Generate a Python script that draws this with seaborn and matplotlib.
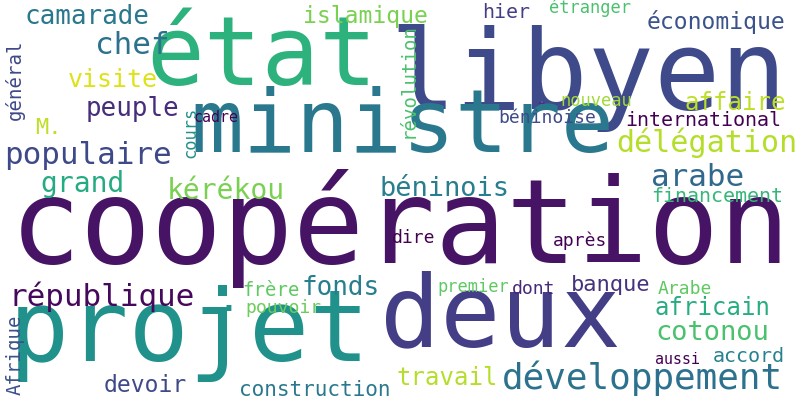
import matplotlib
matplotlib.use("Agg")
import matplotlib.pyplot as plt
import seaborn as sns

# word cloud data: word, centre x/y (pixels), em size (pixels), colour, rotation
words = ["coopération", "état", "libyen", "ministre", "deux", "projet", "développement",
         "délégation", "affaire", "économique", "international", "arabe", "financement",
         "banque", "Arabe", "africain", "cotonou", "accord", "aussi", "premier", "dont",
         "après", "dire", "béninois", "kérékou", "grand", "populaire", "peuple", "M.",
         "visite", "chef", "camarade", "général", "islamique", "révolution", "hier",
         "étranger", "nouveau", "-", "béninoise", "cadre", "cours", "fonds", "frère",
         "pouvoir", ".", "république", "Afrique", "devoir", "construction", "travail"]
xs = [400, 262, 588, 402, 500, 190, 642, 707, 735, 716, 703, 698, 717, 611, 685, 712, 712,
      749, 677, 473, 534, 580, 414, 444, 226, 83, 88, 132, 48, 113, 132, 87, 15, 365, 408,
      506, 590, 596, 541, 547, 216, 190, 341, 271, 283, 229, 102, 15, 145, 315, 447]
ys = [228, 58, 78, 128, 318, 333, 378, 143, 103, 22, 121, 177, 196, 285, 289, 308, 333,
      356, 359, 287, 289, 241, 238, 189, 191, 184, 155, 109, 128, 80, 45, 17, 80, 17, 80,
      12, 8, 101, 103, 118, 117, 132, 288, 291, 308, 300, 297, 355, 385, 390, 378]
sizes = [118, 96, 110, 88, 100, 100, 36, 30, 24, 23, 20, 31, 20, 22, 18, 24, 27, 20, 15,
         17, 18, 18, 18, 27, 28, 28, 31, 26, 22, 25, 31, 26, 19, 23, 19, 20, 17, 17, 22,
         18, 15, 17, 26, 19, 18, 40, 31, 19, 23, 21, 24]
colors = ["#471365", "#2db27d", "#3e4a89", "#2a788e", "#433e85", "#21918c", "#2c728e",
          "#b5de2b", "#bddf26", "#3b528b", "#440154", "#31688e", "#35b779", "#46327e",
          "#5ec962", "#27ad81", "#4ac16d", "#26828e", "#440154", "#5ec962", "#482878",
          "#440154", "#440154", "#287d8e", "#7ad151", "#25ab82", "#3e4989", "#472d7b",
          "#bddf26", "#dde318", "#2c728e", "#2a788e", "#3e4989", "#7ad151", "#4ac16d",
          "#433e85", "#4ac16d", "#a0da39", "#46327e", "#3e4a89", "#440154", "#21918c",
          "#277f8e", "#5ec962", "#6ccd5a", "#21918c", "#46085c", "#3b528b", "#3e4989",
          "#2a788e", "#b5de2b"]
rotations = [90 if w in ("général", "révolution", "cours", "Afrique") else 0 for w in words]

sns.set_theme(style="white")
plt.rcParams['font.family'] = ['DejaVu Sans Mono', 'DejaVu Sans']

fig = plt.figure(figsize=(8, 4), dpi=100)
ax = fig.add_axes([0, 0, 1, 1])
ax.set_xlim(0, 800)
ax.set_ylim(400, 0)
ax.axis('off')

for w, x, y, s, c, r in zip(words, xs, ys, sizes, colors, rotations):
    ax.text(x, y, w, fontsize=s * 0.72, color=c, rotation=r,
            ha='center', va='center')

fig.savefig('out.png', dpi=100, facecolor='white')
